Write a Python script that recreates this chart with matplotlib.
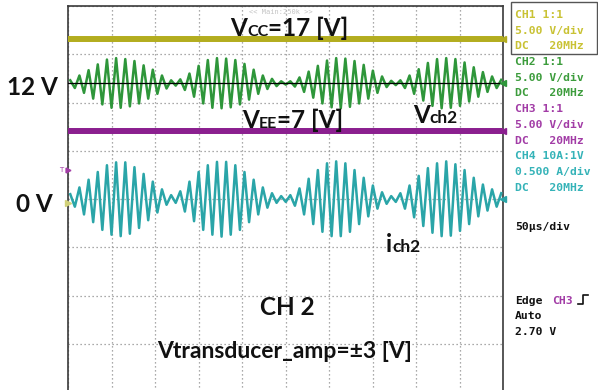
import numpy as np
import matplotlib.pyplot as plt
from matplotlib.patches import Rectangle

W, H = 598, 390

# scope settings (from the right panel)
volt_div = 5.0
amp_div = 0.5
time_div = 50.0   # us per division
n_div_x = 10
n_div_y = 8

# DC rails and channel offsets [V]
vcc_level = 16.6
vee_level = 7.0
ch2_offset = 12.0

# carrier: one extreme every half period
half_period_us = 5.27
t_first = 2.6

# peak amplitude of each half cycle, Vch2 [V]
vch2_amp = [0.3, 0.5, 0.8, 1.0, 1.35, 1.6, 1.95, 2.2, 2.45, 2.55, 2.6, 2.55,
            2.5, 2.4, 2.3, 2.1, 1.85, 1.6, 1.4, 1.1, 0.8, 0.55, 0.3,
            0.25, 0.4, 0.7, 1.0, 1.4, 1.8, 2.1, 2.4, 2.55, 2.6, 2.6, 2.55,
            2.5, 2.4, 2.2, 2.0, 1.7, 1.4, 1.1, 0.8, 0.6, 0.45, 0.3, 0.2, 0.15,
            0.2, 0.35, 0.6, 0.9, 1.2, 1.5, 1.8, 2.1, 2.35, 2.5, 2.6, 2.6,
            2.55, 2.45, 2.3, 2.1, 1.9, 1.6, 1.3, 1.0, 0.7, 0.4, 0.25,
            0.2, 0.3, 0.5, 0.8, 1.1, 1.45, 1.8, 2.1, 2.35, 2.5, 2.6, 2.6,
            2.55, 2.5, 2.35, 2.15, 1.9, 1.65, 1.4, 1.15, 0.9, 0.7, 0.5, 0.35]

# peak amplitude of each half cycle, ich2 [A]
ich2_amp = [0.05, 0.08, 0.12, 0.16, 0.2, 0.24, 0.28, 0.32, 0.35, 0.37, 0.38, 0.385,
            0.38, 0.36, 0.33, 0.3, 0.26, 0.22, 0.18, 0.14, 0.1, 0.06, 0.04,
            0.04, 0.08, 0.13, 0.18, 0.23, 0.28, 0.32, 0.35, 0.37, 0.385, 0.39, 0.385,
            0.37, 0.35, 0.32, 0.28, 0.24, 0.2, 0.16, 0.12, 0.09, 0.06, 0.04, 0.03, 0.03,
            0.04, 0.07, 0.11, 0.16, 0.21, 0.26, 0.3, 0.34, 0.37, 0.385, 0.39, 0.385,
            0.37, 0.34, 0.3, 0.26, 0.22, 0.18, 0.14, 0.1, 0.07, 0.05, 0.03,
            0.03, 0.06, 0.1, 0.14, 0.19, 0.24, 0.28, 0.32, 0.35, 0.37, 0.385, 0.39,
            0.38, 0.36, 0.33, 0.3, 0.26, 0.22, 0.18, 0.15, 0.12, 0.1, 0.08, 0.06]

panel_lines = [("CH1 1:1", "#c9c234"), ("5.00 V/div", "#c9c234"), ("DC   20MHz", "#c9c234"),
               ("CH2 1:1", "#3c9c3c"), ("5.00 V/div", "#3c9c3c"), ("DC   20MHz", "#3c9c3c"),
               ("CH3 1:1", "#a23ca6"), ("5.00 V/div", "#a23ca6"), ("DC   20MHz", "#a23ca6"),
               ("CH4 10A:1V", "#35b3b8"), ("0.500 A/div", "#35b3b8"), ("DC   20MHz", "#35b3b8")]

yellow = "#b3ad1f"
green = "#2e963a"
purple = "#8b1f8f"
cyan = "#2aa5a8"


def fx(x):
    return x / W


def fy(y):
    return 1 - y / H


fig = plt.figure(figsize=(W / 100, H / 100), dpi=100)
fig.patch.set_facecolor("white")

ax = fig.add_axes([fx(68), fy(392), 435 / W, 386 / H])
ax.set_xlim(0, time_div * n_div_x)
ax.set_ylim(-n_div_y / 2, n_div_y / 2)
ax.set_xticks(np.arange(0, time_div * n_div_x + 1, time_div))
ax.set_yticks(np.arange(-n_div_y / 2, n_div_y / 2 + 1, 1))
ax.tick_params(length=0, labelbottom=False, labelleft=False)
ax.grid(True, color="#8e8e8e", linestyle=(0, (1, 2.2)), linewidth=0.9)
for s in ["left", "top", "right"]:
    ax.spines[s].set_color("#3a3a3a")
    ax.spines[s].set_linewidth(1.2)
ax.spines["bottom"].set_visible(False)

# traces
k = np.arange(len(vch2_amp))
t_ext = t_first + half_period_us * k
sign = np.where(k % 2 == 0, 1.0, -1.0)

ax.axhline(vcc_level / volt_div, color=yellow, lw=4.3, zorder=3)
ax.axhline(vee_level / volt_div, color=purple, lw=4.3, zorder=3)
ax.plot(t_ext, ch2_offset / volt_div + sign * np.array(vch2_amp) / volt_div,
        color=green, lw=1.8, zorder=3)
ax.axhline(ch2_offset / volt_div, color="black", lw=0.9, zorder=4)

k2 = np.arange(len(ich2_amp))
t_ext2 = t_first + half_period_us * k2
sign2 = np.where(k2 % 2 == 0, 1.0, -1.0)
ax.plot(t_ext2, sign2 * np.array(ich2_amp) / amp_div, color=cyan, lw=1.8, zorder=3)

# channel markers on the right edge
xr = time_div * n_div_x
for lev, c in [(vcc_level / volt_div, yellow), (ch2_offset / volt_div, green),
               (vee_level / volt_div, purple), (0, cyan)]:
    ax.plot(xr, lev, marker="<", ms=4, color=c, clip_on=False, zorder=5)
# ground / trigger markers on the left edge
ax.plot(0, -0.08, marker=">", ms=5, color="#d2d27a", clip_on=False, zorder=5)
ax.plot(0, 0.6, marker=">", ms=3.5, color="#a23ca6", clip_on=False, zorder=5)
fig.text(fx(59), fy(172), "T", fontsize=5, color="#a23ca6", va="baseline")

fig.text(fx(249), fy(14), "<< Main:250k >>", fontsize=5, color="#c4c4c4",
         family="DejaVu Sans Mono", va="baseline")

# annotations
renderer = fig.canvas.get_renderer()
ann_font = "Lato"


def label(parts, x, y, weight="bold"):
    for s, size in parts:
        t = fig.text(fx(x), fy(y), s, fontsize=size, family=ann_font, weight=weight,
                     va="baseline", ha="left", color="#111111", zorder=6)
        x += t.get_window_extent(renderer).width


label([("V", 17.5), ("CC", 11.5), ("=17 [V]", 17.5)], 230, 36)
label([("V", 17.5), ("EE", 11.5), ("=7 [V]", 17.5)], 242, 128)
label([("V", 17.5), ("ch2", 12.5)], 413, 123)
label([("i", 17.5), ("ch2", 12.5)], 386, 252)
label([("12 V", 17.5)], 7, 95)
label([("0 V", 17.5)], 16, 212)
label([("CH 2", 17.5)], 260, 315)
label([("Vtransducer_amp=\u00b13 [V]", 16.5)], 157, 358)

# right panel
mono = "DejaVu Sans Mono"
for i, (s, c) in enumerate(panel_lines):
    fig.text(fx(515), fy(18 + 15.7 * i), s, fontsize=8.2, family=mono, weight="bold",
             color=c, va="baseline")
fig.patches.append(Rectangle((fx(511), fy(54)), (597 - 511) / W, 52 / H,
                             transform=fig.transFigure, fill=False,
                             edgecolor="#555555", lw=1.0))
fig.text(fx(515), fy(230), "50\u00b5s/div", fontsize=8.2, family=mono, weight="bold",
         color="#111111", va="baseline")
fig.text(fx(515), fy(304), "Edge", fontsize=8.2, family=mono, weight="bold",
         color="#111111", va="baseline")
fig.text(fx(552), fy(304), "CH3", fontsize=8.2, family=mono, weight="bold",
         color="#a23ca6", va="baseline")
fig.text(fx(515), fy(319), "Auto", fontsize=8.2, family=mono, weight="bold",
         color="#111111", va="baseline")
fig.text(fx(515), fy(335), "2.70 V", fontsize=8.2, family=mono, weight="bold",
         color="#111111", va="baseline")
fig.lines.append(plt.Line2D([fx(578), fx(583), fx(583), fx(588)],
                            [fy(304), fy(304), fy(295), fy(295)],
                            transform=fig.transFigure, color="#111111", lw=1.2))

fig.savefig("out.png", dpi=100)
